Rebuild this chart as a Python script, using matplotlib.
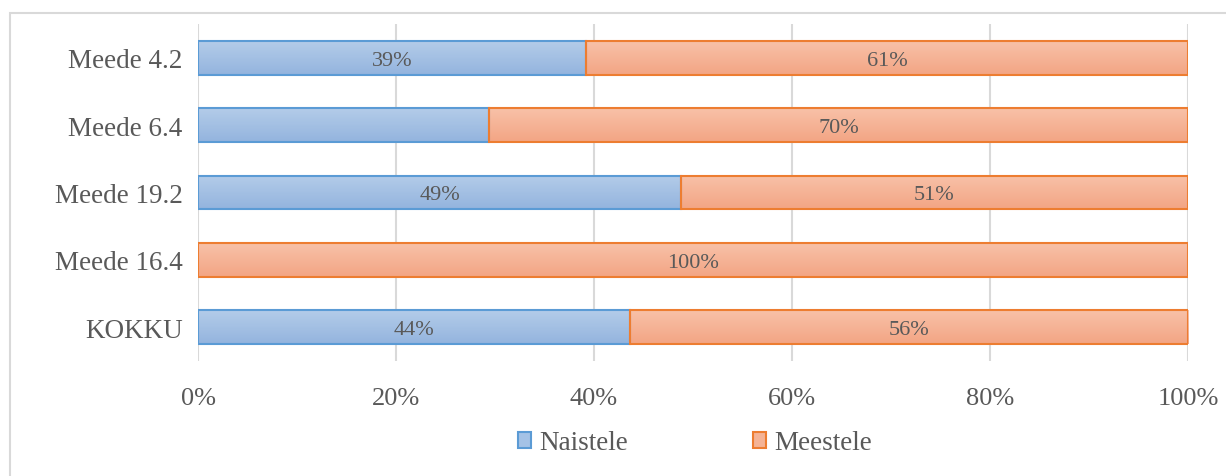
import numpy as np
import matplotlib.pyplot as plt
from matplotlib.colors import LinearSegmentedColormap
from matplotlib.patches import Rectangle, Patch

plt.rcParams['font.family'] = ['Liberation Serif', 'DejaVu Serif']

categories = ['Meede 4.2', 'Meede 6.4', 'Meede 19.2', 'Meede 16.4', 'KOKKU']
naistele = [39.2, 29.4, 48.8, 0.0, 43.6]
meestele = [60.8, 70.6, 51.2, 100.0, 56.4]
naistele_labels = ['39%', '', '49%', '', '44%']
meestele_labels = ['61%', '70%', '51%', '100%', '56%']
xticks = [0, 20, 40, 60, 80, 100]

txt = '#595959'
blue_edge = '#5b9bd5'
orange_edge = '#ed7d31'
blue_cmap = LinearSegmentedColormap.from_list('b', ['#b4cce9', '#93b4de'])
orange_cmap = LinearSegmentedColormap.from_list('o', ['#f8c1a8', '#f3a584'])

fig = plt.figure(figsize=(12.26, 4.77), dpi=100)
ax = fig.add_axes([198/1226, 1-362/477, 990/1226, 337/477])

# chart frame
fig.patches.append(Rectangle((10/1226, -0.1), 1.2, 1-14/477+0.1, transform=fig.transFigure,
                             fill=False, edgecolor='#d9d9d9', linewidth=1.5))

y = np.arange(len(categories))
grad = np.linspace(0, 1, 64).reshape(-1, 1)

def gradient_bars(bars, cmap):
    for b in bars:
        if b.get_width() <= 0:
            b.set_visible(False)
            continue
        x0, y0 = b.get_x(), b.get_y()
        im = ax.imshow(grad, cmap=cmap, aspect='auto', origin='upper',
                       extent=[x0, x0 + b.get_width(), y0 + b.get_height(), y0], zorder=2)
        im.set_clip_path(b)

bars_n = ax.barh(y, naistele, height=0.5, color='#a4c2e6', edgecolor=blue_edge, linewidth=1.5, zorder=3)
bars_m = ax.barh(y, meestele, left=naistele, height=0.5, color='#f5b395', edgecolor=orange_edge, linewidth=1.5, zorder=3)
for b in list(bars_n) + list(bars_m):
    b.set_facecolor('none')
gradient_bars(bars_n, blue_cmap)
gradient_bars(bars_m, orange_cmap)

for i in range(len(categories)):
    if naistele_labels[i]:
        ax.text(naistele[i] / 2, i, naistele_labels[i], ha='center', va='center_baseline', fontsize=16, color=txt, zorder=4)
    ax.text(naistele[i] + meestele[i] / 2, i, meestele_labels[i], ha='center', va='center_baseline', fontsize=16, color=txt, zorder=4)

ax.set_xlim(0, 100)
ax.set_ylim(4.5, -0.5)
ax.set_yticks(y)
ax.set_yticklabels(categories, fontsize=19.5, color=txt)
ax.set_xticks(xticks)
ax.set_xticklabels([f'{v}%' for v in xticks], fontsize=19, color=txt)
ax.tick_params(length=0, pad=11)
ax.tick_params(axis='x', pad=19)
ax.grid(axis='x', color='#d9d9d9', linewidth=1.5, zorder=0)
ax.set_axisbelow(True)
for s in ax.spines.values():
    s.set_visible(False)

handles = [Patch(facecolor='#a4c2e6', edgecolor=blue_edge, linewidth=1.5, label='Naistele'),
           Patch(facecolor='#f5b395', edgecolor=orange_edge, linewidth=1.5, label='Meestele')]
fig.legend(handles=handles, loc='center', bbox_to_anchor=(695/1226, 1-444/477), ncol=2, frameon=False,
           fontsize=19.5, labelcolor=txt, handlelength=0.5, handleheight=0.5, handletextpad=0.3, columnspacing=4.6)

fig.savefig('out.png', dpi=100)
